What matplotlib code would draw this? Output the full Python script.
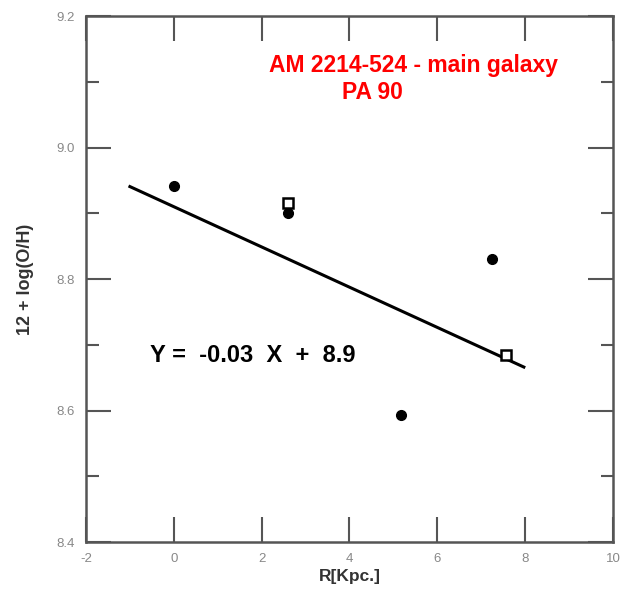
import numpy as np
import matplotlib
matplotlib.use("Agg")
import matplotlib.pyplot as plt
from matplotlib.ticker import MultipleLocator

plt.rcParams["font.family"] = ["Liberation Sans", "DejaVu Sans"]

# filled circles
r_circ = [0.0, 2.6, 5.18, 7.25]
oh_circ = [8.942, 8.901, 8.593, 8.831]
# open squares
r_sq = [2.6, 7.57]
oh_sq = [8.916, 8.685]
# linear fit
slope = -0.0306
intercept = 8.910
fit_x = np.array([-1.0, 7.97])

fig = plt.figure(figsize=(6.21, 5.94), dpi=100)
ax = fig.add_axes([0.1385, 0.0875, 0.8486, 0.8855])

ax.plot(fit_x, slope * fit_x + intercept, color="black", lw=2.2)
ax.plot(r_circ, oh_circ, "o", color="black", ms=7)
ax.plot(r_sq, oh_sq, "s", mfc="white", mec="black", mew=1.8, ms=7)

ax.set_xlim(-2, 10)
ax.set_ylim(8.4, 9.2)
ax.yaxis.set_minor_locator(MultipleLocator(0.1))
ax.tick_params(which="both", direction="in", top=True, right=True,
               color="#555555", width=1.5, labelcolor="#888888", labelsize=9.5, pad=8)
ax.tick_params(which="major", length=18)
ax.tick_params(which="minor", length=9)
ax.set_xticks(np.arange(-2, 11, 2))
ax.set_xticklabels(["-2", "0", "2", "4", "6", "8", "10"])
ax.set_yticks([8.4, 8.6, 8.8, 9.0, 9.2])
ax.set_yticklabels(["8.4", "8.6", "8.8", "9.0", "9.2"])
for s in ax.spines.values():
    s.set_color("#555555")
    s.set_linewidth(1.8)

ax.set_xlabel("R[Kpc.]", fontweight="bold", fontsize=12.5, color="#333333", labelpad=3)
ax.set_ylabel("12 + log(O/H)", fontweight="bold", fontsize=13, color="#333333", labelpad=16)

ax.text(5.45, 9.125, "AM 2214-524 - main galaxy", color="red", fontweight="bold",
        fontsize=16.5, ha="center", va="center")
ax.text(3.83, 9.084, "PA 90", color="red", fontweight="bold", fontsize=16.5,
        ha="left", va="center")
ax.text(-0.55, 8.684, "Y =  -0.03  X  +  8.9", color="black", fontsize=17,
        fontweight="bold", ha="left", va="center")

fig.savefig("out.png", dpi=100)
